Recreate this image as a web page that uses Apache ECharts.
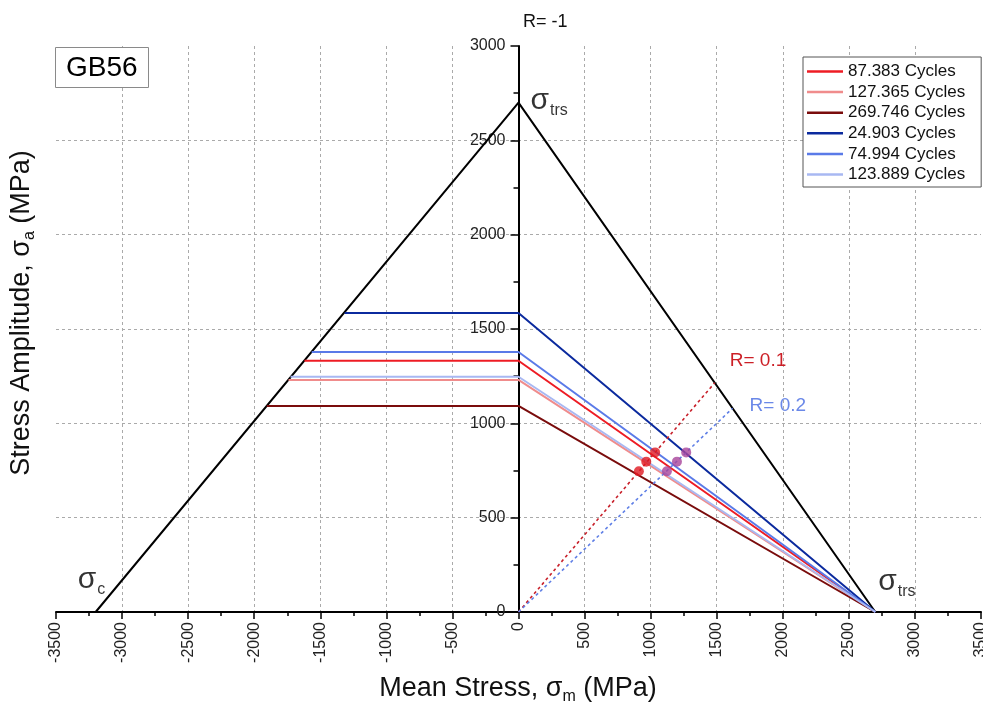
<!DOCTYPE html>
<html>
<head>
<meta charset="utf-8">
<script src="https://cdn.jsdelivr.net/npm/echarts@6/dist/echarts.min.js"></script>
<style>
html,body{margin:0;padding:0;background:#fff;}
#chart{width:983px;height:711px;}
</style>
</head>
<body>
<div id="chart"></div>
<script>
// ---- data ----
const seriesNames = ['87.383 Cycles','127.365 Cycles','269.746 Cycles','24.903 Cycles','74.994 Cycles','123.889 Cycles'];
const seriesColors = ['#ee1c24','#f08c8c','#7a0c0c','#0b2a9e','#5a7ae8','#a8b8f2'];
const amplitudeAtZeroMean = [1332, 1230, 1092, 1585, 1378, 1247];
const leftEndMean = [-1620, -1740, -1905, -1315, -1565, -1725];
const sigmaTrs = 2700;
const sigmaC = -3200;
const envelopeMean = [sigmaC, 0, sigmaTrs];
const envelopeAmp = [0, sigmaTrs, 0];
const r01End = [1485, 1215];
const r02End = [1620, 1080];
const r01PointsMean = [1034, 967, 911];
const r01PointsAmp = [846, 797, 746];
const r02PointsMean = [1269, 1199, 1123];
const r02PointsAmp = [846, 797, 746];
const xTicks = {min: -3500, max: 3500, interval: 500};
const yTicks = {min: 0, max: 3000, interval: 500};

const FONT = '"Liberation Sans", Arial, sans-serif';
const GRID = {left: 56, right: 2, top: 46, bottom: 99};
const CHART_W = 983;

const chart = echarts.init(document.getElementById('chart'), null, {renderer: 'canvas'});

const cycleSeries = seriesNames.map((name, i) => ({
  name: name,
  type: 'line',
  symbol: 'none',
  data: [[leftEndMean[i], amplitudeAtZeroMean[i]], [0, amplitudeAtZeroMean[i]], [sigmaTrs, 0]],
  lineStyle: {color: seriesColors[i], width: 2},
  itemStyle: {color: seriesColors[i]},
  z: 3
}));

const sigmaRich = {
  s: {fontSize: 30, fontFamily: FONT, color: '#000', lineHeight: 40, verticalAlign: 'middle'},
  sub: {fontSize: 16, fontFamily: FONT, color: '#000', lineHeight: 40, verticalAlign: 'bottom', padding: [0, 0, 2, 1]}
};

// pixel offset that places the y axis at mean stress = 0
const gridW = CHART_W - GRID.left - GRID.right;
const yAxisOffset = -gridW * (0 - xTicks.min) / (xTicks.max - xTicks.min);

const axisTitleRich = {
  s: {fontSize: 27, fontFamily: FONT, fill: '#111'},
  sub: {fontSize: 16, fontFamily: FONT, fill: '#111', padding: [15, 0, 0, 0]}
};

const option = {
  animation: false,
  backgroundColor: '#fff',
  textStyle: {fontFamily: FONT},
  title: [
    {text: 'R= -1', left: 518, top: 8, textStyle: {fontSize: 18, fontWeight: 'normal', color: '#111', fontFamily: FONT}},
    {text: 'GB56', left: 55, top: 47, padding: [7, 11, 6, 11], borderColor: '#8a8a8a', borderWidth: 1,
     backgroundColor: '#fff',
     textStyle: {fontSize: 28, fontWeight: 'normal', color: '#000', fontFamily: FONT}}
  ],
  grid: Object.assign({containLabel: false, outerBoundsMode: 'none'}, GRID),
  legend: {
    data: seriesNames,
    orient: 'vertical',
    left: 803, top: 57,
    padding: [6, 16, 4, 4],
    icon: 'rect',
    itemWidth: 36, itemHeight: 2.5, itemGap: 3.6,
    borderColor: '#555', borderWidth: 1,
    backgroundColor: '#fff',
    textStyle: {fontSize: 17, color: '#111', fontFamily: FONT, padding: [0, 0, 0, 0]}
  },
  xAxis: {
    type: 'value', min: xTicks.min, max: xTicks.max, interval: xTicks.interval,
    axisLine: {show: true, onZero: true, lineStyle: {color: '#000', width: 2}},
    axisTick: {show: true, inside: false, length: 7, lineStyle: {color: '#000', width: 1.5}},
    minorTick: {show: true, splitNumber: 2, length: 4, lineStyle: {color: '#000', width: 1.5}},
    axisLabel: {rotate: 90, fontSize: 16, color: '#222', margin: 10, fontFamily: FONT, formatter: v => String(v)},
    splitLine: {show: true, showMinLine: false, showMaxLine: false, lineStyle: {color: '#aaa', type: [3, 3], width: 1}}
  },
  yAxis: {
    type: 'value', min: yTicks.min, max: yTicks.max, interval: yTicks.interval,
    position: 'left', offset: yAxisOffset,
    axisLine: {show: true, onZero: false, lineStyle: {color: '#000', width: 2}},
    axisTick: {show: true, inside: false, length: 8, lineStyle: {color: '#000', width: 1.5}},
    minorTick: {show: true, splitNumber: 2, length: 5, lineStyle: {color: '#000', width: 1.5}},
    axisLabel: {fontSize: 16, color: '#222', margin: 13, fontFamily: FONT, formatter: v => String(v)},
    splitLine: {show: true, showMinLine: false, showMaxLine: false, lineStyle: {color: '#aaa', type: [3, 3], width: 1}}
  },
  graphic: [
    {type: 'text', rotation: Math.PI / 2,
     x: 22, y: 313,
     style: {
       text: 'Stress Amplitude, {s|σ}{sub|a} (MPa)',
       font: '27px ' + FONT, fill: '#111', align: 'center', verticalAlign: 'middle',
       rich: axisTitleRich
     }},
    {type: 'text', x: 518, y: 689,
     style: {
       text: 'Mean Stress, {s|σ}{sub|m} (MPa)',
       font: '27px ' + FONT, fill: '#111', align: 'center', verticalAlign: 'middle',
       rich: axisTitleRich
     }}
  ],
  series: [
    {
      name: 'envelope', type: 'line', symbol: 'none',
      data: envelopeMean.map((m, i) => [m, envelopeAmp[i]]),
      lineStyle: {color: '#000', width: 2}, z: 2
    },
    ...cycleSeries,
    {
      name: 'R01', type: 'line', symbol: 'none',
      data: [[0, 0], r01End],
      lineStyle: {color: '#c8202a', width: 1.6, type: [3, 3]}, z: 4,
      endLabel: {show: true, formatter: 'R= 0.1', color: '#cc1f26', fontSize: 19, fontFamily: FONT, offset: [7, -22]}
    },
    {
      name: 'R02', type: 'line', symbol: 'none',
      data: [[0, 0], r02End],
      lineStyle: {color: '#5f7fe6', width: 1.6, type: [3, 3]}, z: 4,
      endLabel: {show: true, formatter: 'R= 0.2', color: '#6a88e8', fontSize: 19, fontFamily: FONT, offset: [9, -2]}
    },
    {
      name: 'R01pts', type: 'scatter', symbol: 'circle', symbolSize: 10,
      data: r01PointsMean.map((m, i) => [m, r01PointsAmp[i]]),
      itemStyle: {color: '#e01820'}, z: 5
    },
    {
      name: 'R02pts', type: 'scatter', symbol: 'circle', symbolSize: 10,
      data: r02PointsMean.map((m, i) => [m, r02PointsAmp[i]]),
      itemStyle: {color: '#a8449a'}, z: 5
    },
    {
      name: 'annotations', type: 'scatter', symbolSize: 0, silent: true,
      data: [
        {value: [envelopeMean[1], envelopeAmp[1]], label: {show: true, position: [12, -22], formatter: '{s|σ}{sub|trs}', rich: sigmaRich}},
        {value: [envelopeMean[2], envelopeAmp[2]], label: {show: true, position: [3, -50], formatter: '{s|σ}{sub|trs}', rich: sigmaRich}},
        {value: [envelopeMean[0], envelopeAmp[0]], label: {show: true, position: [-18, -52], formatter: '{s|σ}{sub|c}', rich: sigmaRich}}
      ],
      z: 6
    }
  ]
};

chart.setOption(option);
</script>
</body>
</html>
